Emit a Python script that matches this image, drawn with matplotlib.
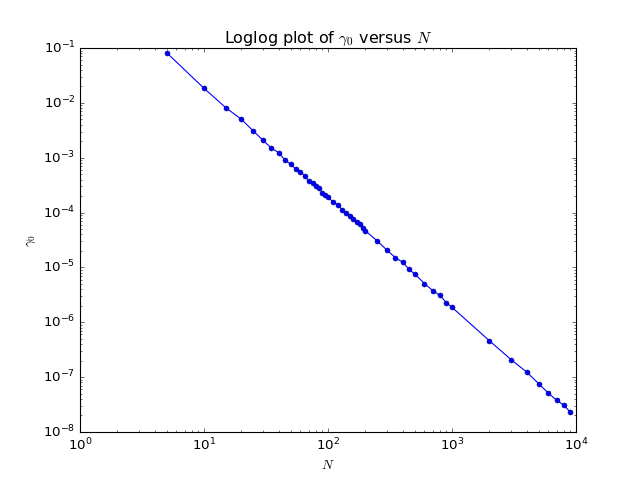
import numpy as np
import matplotlib
matplotlib.use('Agg')
import matplotlib.pyplot as plt

# N values and gamma_0
N = [5, 10, 15, 20, 25, 30, 35, 40, 45, 50, 55, 60, 65, 70, 75, 80, 85, 90, 95, 100,
     110, 120, 130, 140, 150, 160, 170, 180, 190, 200,
     250, 300, 350, 400, 450, 500, 600, 700, 800, 900, 1000,
     2000, 3000, 4000, 5000, 6000, 7000, 8000, 9000]
gamma0 = [8.21e-2, 1.842e-2, 8.16e-3, 5.02e-3, 3.07e-3, 2.06e-3, 1.50e-3, 1.234e-3,
          9.08e-4, 7.59e-4, 6.23e-4, 5.56e-4, 4.64e-4, 3.72e-4, 3.42e-4, 3.09e-4,
          2.77e-4, 2.30e-4, 2.09e-4, 1.90e-4,
          1.56e-4, 1.374e-4, 1.137e-4, 1.00e-4, 8.48e-5, 7.54e-5, 6.82e-5, 6.11e-5,
          5.17e-5, 4.67e-5,
          3.03e-5, 2.05e-5, 1.50e-5, 1.245e-5, 9.24e-6, 7.59e-6, 5.09e-6, 3.77e-6,
          3.08e-6, 2.28e-6, 1.876e-6,
          4.62e-7, 2.08e-7, 1.24e-7, 7.60e-8, 5.08e-8, 3.78e-8, 3.07e-8, 2.29e-8]

plt.style.use('classic')
fig = plt.figure(figsize=(8, 6), dpi=80)
plt.loglog(N, gamma0, 'bo-', markersize=4.5, markeredgecolor='#000080', markeredgewidth=0.5)
plt.xlim(1, 1e4)
plt.ylim(1e-8, 1e-1)
plt.title(r'Loglog plot of $\gamma_0$ versus $N$')
plt.xlabel(r'$N$')
plt.ylabel(r'$\gamma_0$')
plt.savefig('out.png', dpi=80)
